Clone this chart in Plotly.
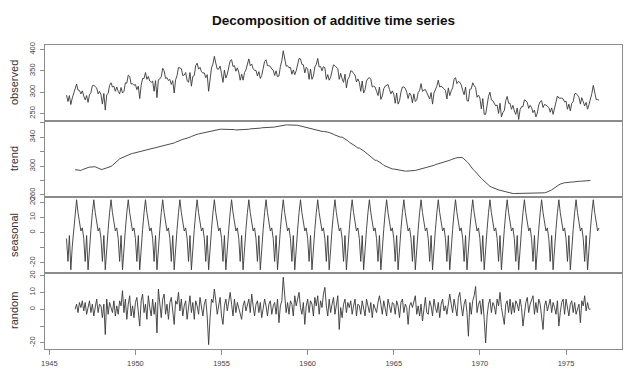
import plotly.graph_objects as go
from plotly.subplots import make_subplots

# ---- data (monthly, Jan 1946 - Dec 1976) ----
start_year = 1946
frequency = 12

observed = [
    293, 278, 292, 271, 286, 298, 308, 319, 305, 304, 296, 303,
    291, 282, 292, 276, 294, 299, 315, 316, 313, 310, 296, 302,
    294, 272, 297, 258, 294, 297, 316, 322, 312, 314, 302, 312,
    302, 296, 311, 298, 302, 322, 321, 340, 337, 319, 320, 316,
    318, 306, 314, 285, 316, 332, 332, 346, 330, 337, 326, 323,
    326, 302, 327, 287, 329, 331, 336, 356, 350, 332, 334, 327,
    330, 318, 327, 298, 329, 339, 358, 356, 355, 339, 340, 346,
    328, 323, 346, 314, 337, 339, 362, 368, 354, 358, 348, 345,
    345, 334, 341, 302, 334, 357, 366, 384, 368, 354, 354, 361,
    343, 323, 352, 333, 342, 358, 374, 376, 360, 362, 349, 357,
    347, 328, 342, 328, 346, 352, 367, 378, 362, 366, 355, 351,
    351, 338, 348, 332, 339, 356, 372, 376, 362, 362, 360, 354,
    352, 339, 350, 336, 338, 360, 374, 397, 376, 361, 362, 357,
    358, 342, 352, 341, 350, 364, 379, 378, 365, 364, 345, 358,
    354, 330, 354, 330, 338, 359, 365, 379, 359, 360, 350, 360,
    357, 330, 341, 328, 335, 350, 364, 362, 359, 355, 330, 344,
    331, 323, 342, 310, 330, 336, 350, 349, 344, 340, 324, 331,
    323, 302, 326, 298, 306, 326, 332, 334, 330, 312, 314, 312,
    302, 292, 312, 283, 291, 308, 314, 316, 318, 306, 296, 303,
    295, 274, 298, 272, 280, 300, 312, 312, 309, 300, 285, 298,
    293, 275, 296, 278, 282, 299, 304, 320, 302, 305, 306, 299,
    291, 284, 299, 272, 298, 305, 314, 328, 312, 314, 312, 308,
    304, 284, 310, 292, 303, 310, 330, 334, 320, 325, 323, 317,
    304, 294, 312, 280, 279, 307, 308, 322, 315, 311, 288, 293,
    286, 261, 285, 248, 248, 273, 290, 300, 282, 280, 272, 268,
    270, 250, 274, 242, 252, 257, 280, 290, 274, 274, 260, 269,
    256, 248, 263, 236, 259, 266, 266, 282, 280, 276, 262, 269,
    264, 252, 258, 242, 251, 270, 278, 280, 264, 271, 270, 266,
    264, 253, 263, 248, 262, 271, 291, 286, 286, 286, 284, 277,
    279, 260, 272, 256, 274, 278, 296, 297, 293, 288, 272, 287,
    277, 268, 276, 260, 271, 282, 297, 316, 295, 283, 283, 281,
]

trend = [
    None, None, None, None, None, None, 295, 294.5, 294, 293.5, 294, 295,
    296, 297, 297.5, 298, 298.5, 299, 299, 299, 299, 298, 297, 296,
    295.5, 295.5, 296, 297, 297.5, 298, 298.5, 299.5, 301, 303, 305, 307,
    309, 310, 311, 312, 313, 314, 314.5, 315, 316, 317, 317.5, 318,
    318, 318.5, 319, 319.5, 320, 321, 321.5, 322, 322.5, 323, 323.5, 324,
    324, 324.5, 325, 325.5, 326, 327, 327.5, 328, 328.5, 329, 329.5, 330,
    330, 330.5, 331, 332, 333, 334, 334.5, 335, 336, 337, 337.5, 338,
    338, 339, 340, 341, 342, 343, 343.5, 344, 344.5, 345, 345.5, 346,
    346, 346.5, 347, 347.5, 348, 349, 349.5, 350, 350, 350.5, 350.5, 351,
    351, 351, 351.5, 351.5, 351.5, 351.5, 351, 351, 350.5, 350.5, 350, 350,
    350, 350, 350, 350.5, 350.5, 351, 351, 351, 351.5, 351.5, 352, 352,
    352, 352, 352.5, 352.5, 353, 353, 353, 353, 353.5, 353.5, 354, 354,
    354, 354, 354.5, 355, 355, 356, 356, 356.5, 356.5, 357, 357, 357,
    357, 357.5, 357.5, 357.5, 357, 356.5, 356, 355.5, 355, 354, 353, 352.5,
    352, 351.5, 351.5, 351, 350.5, 350, 350, 349.5, 349, 348.5, 348, 348,
    348, 347.5, 347, 346.5, 346, 345, 344, 343, 342, 341, 340.5, 340,
    340, 339, 338, 337, 335, 333, 332, 330.5, 329, 328, 326.5, 325,
    325, 324, 322.5, 321, 319.5, 318, 316.5, 315, 313, 311, 309.5, 308,
    308, 307, 306, 304.5, 303, 301, 300, 299, 298.5, 297.5, 296.5, 296,
    296, 295.5, 295, 294.5, 294, 293.5, 293, 293, 293, 293, 293, 293,
    293, 293, 293.5, 294, 294.5, 295, 295.5, 296, 296.5, 297, 297.5, 298,
    298, 298.5, 299, 300, 301, 302, 302.5, 303, 304, 304.5, 305, 306,
    306, 306.5, 307, 308, 309, 310, 310.5, 311, 311.5, 312, 312, 312,
    311.5, 310, 308, 306, 304, 301, 298.5, 296, 294, 291.5, 289, 287,
    285, 283, 281, 279, 277, 275, 273.5, 272, 271, 270, 269, 268,
    268, 267, 266.5, 266, 265, 264, 263.5, 263, 263, 262.5, 262, 262,
    262, 262, 262, 262, 262, 262.5, 262.5, 263, 263, 263, 263, 263,
    263, 263, 262.5, 262.5, 262, 262, 262, 262, 262.5, 263, 263.5, 264,
    265, 266, 267, 268.5, 270, 272, 273, 274, 275, 276, 276.5, 277,
    277, 277.5, 277.5, 278, 278, 278, 278.5, 278.5, 279, 279, 279, 279,
    279, 279.5, 279.5, 280, 280, 280, None, None, None, None, None, None,
]

seasonal = [
    -4, -19, -2, -24.5, -9, 2, 13, 21.5, 13, 6, 1, 3,
    -4, -19, -2, -24.5, -9, 2, 13, 21.5, 13, 6, 1, 3,
    -4, -19, -2, -24.5, -9, 2, 13, 21.5, 13, 6, 1, 3,
    -4, -19, -2, -24.5, -9, 2, 13, 21.5, 13, 6, 1, 3,
    -4, -19, -2, -24.5, -9, 2, 13, 21.5, 13, 6, 1, 3,
    -4, -19, -2, -24.5, -9, 2, 13, 21.5, 13, 6, 1, 3,
    -4, -19, -2, -24.5, -9, 2, 13, 21.5, 13, 6, 1, 3,
    -4, -19, -2, -24.5, -9, 2, 13, 21.5, 13, 6, 1, 3,
    -4, -19, -2, -24.5, -9, 2, 13, 21.5, 13, 6, 1, 3,
    -4, -19, -2, -24.5, -9, 2, 13, 21.5, 13, 6, 1, 3,
    -4, -19, -2, -24.5, -9, 2, 13, 21.5, 13, 6, 1, 3,
    -4, -19, -2, -24.5, -9, 2, 13, 21.5, 13, 6, 1, 3,
    -4, -19, -2, -24.5, -9, 2, 13, 21.5, 13, 6, 1, 3,
    -4, -19, -2, -24.5, -9, 2, 13, 21.5, 13, 6, 1, 3,
    -4, -19, -2, -24.5, -9, 2, 13, 21.5, 13, 6, 1, 3,
    -4, -19, -2, -24.5, -9, 2, 13, 21.5, 13, 6, 1, 3,
    -4, -19, -2, -24.5, -9, 2, 13, 21.5, 13, 6, 1, 3,
    -4, -19, -2, -24.5, -9, 2, 13, 21.5, 13, 6, 1, 3,
    -4, -19, -2, -24.5, -9, 2, 13, 21.5, 13, 6, 1, 3,
    -4, -19, -2, -24.5, -9, 2, 13, 21.5, 13, 6, 1, 3,
    -4, -19, -2, -24.5, -9, 2, 13, 21.5, 13, 6, 1, 3,
    -4, -19, -2, -24.5, -9, 2, 13, 21.5, 13, 6, 1, 3,
    -4, -19, -2, -24.5, -9, 2, 13, 21.5, 13, 6, 1, 3,
    -4, -19, -2, -24.5, -9, 2, 13, 21.5, 13, 6, 1, 3,
    -4, -19, -2, -24.5, -9, 2, 13, 21.5, 13, 6, 1, 3,
    -4, -19, -2, -24.5, -9, 2, 13, 21.5, 13, 6, 1, 3,
    -4, -19, -2, -24.5, -9, 2, 13, 21.5, 13, 6, 1, 3,
    -4, -19, -2, -24.5, -9, 2, 13, 21.5, 13, 6, 1, 3,
    -4, -19, -2, -24.5, -9, 2, 13, 21.5, 13, 6, 1, 3,
    -4, -19, -2, -24.5, -9, 2, 13, 21.5, 13, 6, 1, 3,
    -4, -19, -2, -24.5, -9, 2, 13, 21.5, 13, 6, 1, 3,
]

random_part = [
    None, None, None, None, None, None, 0, 3, -2, 4, 1, 5,
    -1, 4, -3, 2, 5, -2, 3, -4, 1, 6, -2, 3,
    2, -5, 3, -15, 6, -3, 4, 1, -2, 5, -4, 2,
    -3, 5, 2, 11, -2, 6, -6, 3, 8, -4, 2, -5,
    4, 7, -3, -10, 5, 9, -2, 3, -6, 8, 1, -4,
    6, -3, 4, -14, 12, 2, -5, 6, 9, -3, 3, -6,
    4, 7, -2, -9, 5, 3, 10, -1, 6, -4, 2, 5,
    -6, 3, 8, -2, 4, -6, 5, 2, -3, 7, 1, -4,
    3, 6, -4, -21, -5, 6, 4, 12, 5, -3, 2, 7,
    -4, -9, 2, 6, -1, 5, 10, 3, -4, 6, -2, 4,
    1, -3, -6, 2, 5, -1, 3, 6, -2, 9, 2, -4,
    3, 5, -2, 4, -5, 1, 6, 2, -4, 3, 5, -3,
    2, 4, -3, 6, -8, 2, 5, 19, 6, -2, 4, -3,
    5, 3, -4, 8, 2, 6, 10, 1, -3, 4, -9, 2,
    6, -2, 5, 3, -4, 7, 2, 8, -3, 5, 1, 9,
    13, 2, -4, 6, -2, 3, 7, -3, 4, 8, -12, 1,
    -5, 3, 6, -2, 4, 1, 5, -3, 2, 6, -4, 3,
    2, -3, 5, 1, -4, 6, 2, -2, 4, -5, 3, 1,
    -2, 4, 8, 3, -3, 5, 1, -4, 6, 2, -2, 4,
    3, -3, 5, 2, -5, 4, 6, -2, 3, 1, -9, 2,
    4, 1, 5, 8, -3, 2, -4, 3, -7, 2, 7, -2,
    -3, 5, 2, -4, 6, 1, -2, 4, -5, 3, 6, -1,
    2, -3, 5, 9, 3, -2, 6, 1, -4, 7, 10, 2,
    -4, 3, 6, -2, -16, 4, -3, 5, 8, 13.5, -2, 3,
    5, -3, 6, -6, -20, -4, 3, 6, -2, 4, 2, -3,
    6, 2, 10, 1, -4, -9, 3, 5, -2, 6, -3, 4,
    -2, 5, 3, -1, 6, 1, -10, -3, 4, 7, -2, 3,
    5, 8, -3, 4, -2, 6, 3, -4, -12, 2, 5, -1,
    3, 6, -2, 4, 1, -3, 5, -10, -2, 4, 6, -3,
    6, 2, -4, 3, 5, -2, 4, -3, 1, 3, -8, 5,
    2, 8, -1, 4, 0, 0, None, None, None, None, None, None,
]

panel_names = ["observed", "trend", "seasonal", "random"]
x_tick_years = [1945, 1950, 1955, 1960, 1965, 1970, 1975]
y_tick_values = [
    [250, 300, 350, 400],
    [260, 280, 300, 320, 340, 360],
    [-20, -10, 0, 10, 20],
    [-20, -10, 0, 10, 20],
]
y_tick_labels = [
    ["250", "300", "350", "400"],
    ["260", "", "300", "", "340", ""],
    ["-20", "", "0", "10", "20"],
    ["-20", "", "0", "10", "20"],
]

# ---- styling ----
y_ranges = [[232.4, 410.5], [257.2, 362.4], [-26.6, 23.3], [-23.6, 21.5]]
x_range = [1944.75, 1978.25]
FONT = "Liberation Sans, Arial, sans-serif"
LINE = "#383838"
FRAME = "#8c8c8c"
PAGE_OFFSET = 8  # default body margin of the html page

time = [start_year + i / frequency for i in range(len(observed))]
series_list = [observed, trend, seasonal, random_part]

fig = make_subplots(rows=4, cols=1, shared_xaxes=True, vertical_spacing=0)
for i, s in enumerate(series_list):
    fig.add_trace(
        go.Scatter(x=time, y=s, mode="lines", line=dict(color=LINE, width=0.9),
                   showlegend=False, hoverinfo="skip"),
        row=i + 1, col=1,
    )

for i in range(4):
    r = i + 1
    fig.update_yaxes(
        row=r, col=1, range=y_ranges[i], tickvals=y_tick_values[i], ticktext=y_tick_labels[i],
        tickangle=-90, ticks="outside", ticklen=4, tickcolor=FRAME, tickwidth=1,
        showline=True, mirror=True, linecolor=FRAME, linewidth=1,
        showgrid=False, zeroline=False, automargin=False,
        tickfont=dict(family=FONT, size=7.5, color="#444"), ticklabelstandoff=2,
    )
    fig.update_xaxes(
        row=r, col=1, range=x_range, showline=True, mirror=True, linecolor=FRAME, linewidth=1,
        showgrid=False, zeroline=False, automargin=False,
        tickvals=x_tick_years, ticks="outside" if r == 4 else "", ticklen=5, tickcolor=FRAME,
        showticklabels=(r == 4), tickfont=dict(family=FONT, size=7.5, color="#444"),
        ticklabelstandoff=2,
    )

centers = [0.875, 0.625, 0.375, 0.125]
for name, yc in zip(panel_names, centers):
    fig.add_annotation(
        text=name, xref="paper", yref="paper", x=(14 - 45) / 577, y=yc,
        xanchor="center", yanchor="middle", textangle=-90, showarrow=False,
        font=dict(family=FONT, size=11, color="#333"),
    )

W, H = 640 - PAGE_OFFSET, 372 - PAGE_OFFSET
fig.update_layout(
    width=W, height=H,
    margin=dict(l=45 - PAGE_OFFSET, r=18, t=45 - PAGE_OFFSET, b=23),
    paper_bgcolor="white", plot_bgcolor="white",
    title=dict(text="<b>Decomposition of additive time series</b>", x=0.5, xref="paper",
               xanchor="center", y=1 - (20 - PAGE_OFFSET) / H, yref="container", yanchor="middle",
               font=dict(family=FONT, size=13.5, color="#111")),
    font=dict(family=FONT),
)

fig.write_html("out.html")
